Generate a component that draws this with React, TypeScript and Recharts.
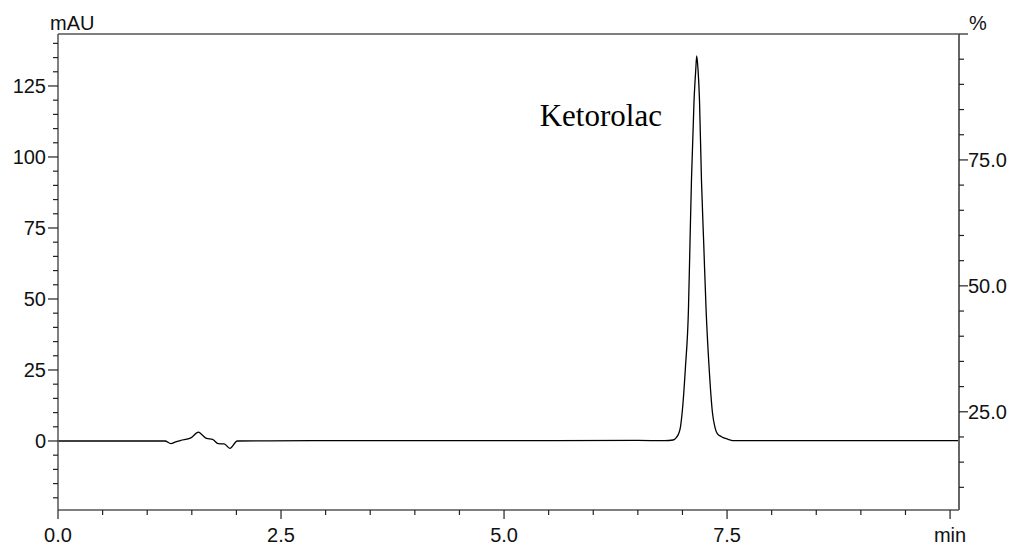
import React from 'react';
import { LineChart, Line, XAxis, YAxis, ReferenceLine, ReferenceDot } from 'recharts';

// Detector trace: retention time (min) and absorbance (mAU)
const retentionTimes = [
  0.0, 1.2, 1.265, 1.32, 1.377, 1.489, 1.575, 1.62, 1.665, 1.732, 1.796, 1.863, 1.927, 2.01,
  2.85, 3.8, 4.5, 5.5, 6.5, 6.8, 6.895, 6.933, 6.959, 6.978, 6.996, 7.034, 7.067, 7.084,
  7.101, 7.13, 7.149, 7.16, 7.175, 7.191, 7.213, 7.239, 7.265, 7.298, 7.337, 7.363, 7.389,
  7.437, 7.512, 7.587, 7.7, 10.1,
];
const absorbance = [
  0.0, 0.0, -0.95, -0.3, 0.2, 1.1, 3.1, 2.0, 0.9, 0.6, -0.95, -1.05, -2.6, 0.0,
  0.1, 0.1, 0.1, 0.15, 0.2, 0.1, 0.35, 1.3, 2.7, 5.0, 9.75, 26.2, 46.1, 69.0,
  91.9, 120.0, 130.6, 135.6, 130.6, 120.0, 91.9, 69.0, 46.1, 26.2, 9.75, 5.0, 2.7,
  1.5, 0.6, 0.1, 0.1, 0.1,
];

// Axis ticks and labels
const timeMajorTicks = [0, 2.5, 5, 7.5, 10];
const timeMajorLabels = ['0.0', '2.5', '5.0', '7.5', 'min'];
const timeMinorTicks = [0.5, 1, 1.5, 2, 3, 3.5, 4, 4.5, 5.5, 6, 6.5, 7, 8, 8.5, 9, 9.5];

const mauMajorTicks = [0, 25, 50, 75, 100, 125];
const mauMajorLabels = ['0', '25', '50', '75', '100', '125'];
const mauMinorTicks = [-20, -15, -10, -5, 5, 10, 15, 20, 30, 35, 40, 45, 55, 60, 65, 70, 80, 85, 90, 95, 105, 110, 115, 120, 130, 135, 140];

const pctMajorTicks = [25, 50, 75, 100];
const pctMajorLabels = ['25.0', '50.0', '75.0', ''];
const pctMinorTicks = [10, 15, 20, 30, 35, 40, 45, 55, 60, 65, 70, 80, 85, 90, 95];

const timeDomain = [0, 10.1];
const mauDomain = [-24.3, 143.3];
const pctDomain = [5.5, 100];

const peakName = 'Ketorolac';
const peakLabelAt = { t: 5.4, v: 110.9 };

const traceData = retentionTimes.map((t, i) => ({ t, v: absorbance[i] }));

const sorted = (a: number[], b: number[]) => [...a, ...b].sort((p, q) => p - q);

const FONT = '"Liberation Sans", Arial, sans-serif';
const TICK_COLOR = '#222';

const TimeTick = (props: any) => {
  const { x, y, payload } = props;
  const idx = timeMajorTicks.indexOf(payload.value);
  const major = idx >= 0;
  return (
    <g>
      <line x1={x} x2={x} y1={y} y2={y + (major ? 9 : 5)} stroke={TICK_COLOR} strokeWidth={1.2} />
      {major && (
        <text x={x} y={y + 32} textAnchor="middle" fontFamily={FONT} fontSize={20} fill="#111">
          {timeMajorLabels[idx]}
        </text>
      )}
    </g>
  );
};

const MauTick = (props: any) => {
  const { x, y, payload } = props;
  const idx = mauMajorTicks.indexOf(payload.value);
  const major = idx >= 0;
  return (
    <g>
      <line x1={x - (major ? 10 : 5)} x2={x} y1={y} y2={y} stroke={TICK_COLOR} strokeWidth={1.2} />
      {major && (
        <text x={x - 12} y={y + 7} textAnchor="end" fontFamily={FONT} fontSize={20} fill="#111">
          {mauMajorLabels[idx]}
        </text>
      )}
    </g>
  );
};

const PctTick = (props: any) => {
  const { x, y, payload } = props;
  const idx = pctMajorTicks.indexOf(payload.value);
  const major = idx >= 0;
  return (
    <g>
      <line x1={x} x2={x + (major ? 9 : 5)} y1={y} y2={y} stroke={TICK_COLOR} strokeWidth={1.2} />
      {major && (
        <text x={x + 9} y={y + 7} textAnchor="start" fontFamily={FONT} fontSize={20} fill="#111">
          {pctMajorLabels[idx]}
        </text>
      )}
    </g>
  );
};

export default function App() {
  return (
    <div style={{ position: 'absolute', left: 0, top: 0, background: '#fff' }}>
      <LineChart width={1016} height={545} data={traceData} margin={{ top: 34, right: 0, bottom: 0, left: 0 }}>
        <XAxis
          dataKey="t"
          type="number"
          domain={timeDomain}
          allowDataOverflow
          ticks={sorted(timeMajorTicks, timeMinorTicks)}
          interval={0}
          tickSize={0}
          tickMargin={0}
          tickLine={false}
          tick={<TimeTick />}
          height={35}
          axisLine={{ stroke: '#555', strokeWidth: 1.5 }}
        />
        <YAxis
          yAxisId="mau"
          type="number"
          domain={mauDomain}
          allowDataOverflow
          ticks={sorted(mauMajorTicks, mauMinorTicks)}
          interval={0}
          tickSize={0}
          tickMargin={0}
          tickLine={false}
          tick={<MauTick />}
          width={58}
          axisLine={{ stroke: '#555', strokeWidth: 1.5 }}
          label={{
            content: (p: any) => (
              <text x={p.viewBox.x + p.viewBox.width - 8} y={p.viewBox.y - 4} fontFamily={FONT} fontSize={20} fill="#111">
                mAU
              </text>
            ),
          }}
        />
        <YAxis
          yAxisId="pct"
          orientation="right"
          type="number"
          domain={pctDomain}
          allowDataOverflow
          ticks={sorted(pctMajorTicks, pctMinorTicks)}
          interval={0}
          tickSize={0}
          tickMargin={0}
          tickLine={false}
          tick={<PctTick />}
          width={57}
          axisLine={{ stroke: '#666', strokeWidth: 2 }}
          label={{
            content: (p: any) => (
              <text x={p.viewBox.x + 10} y={p.viewBox.y - 4} fontFamily={FONT} fontSize={20} fill="#111">
                %
              </text>
            ),
          }}
        />
        <ReferenceLine yAxisId="mau" y={mauDomain[1]} stroke="#000" strokeWidth={1.2} />
        <Line
          yAxisId="mau"
          dataKey="v"
          type="monotone"
          stroke="#000"
          strokeWidth={1.3}
          dot={false}
          isAnimationActive={false}
        />
        <ReferenceDot
          yAxisId="mau"
          x={peakLabelAt.t}
          y={peakLabelAt.v}
          r={0}
          label={{
            content: (p: any) => (
              <text
                x={p.viewBox.x}
                y={p.viewBox.y}
                fontFamily='"Liberation Serif", "Times New Roman", serif'
                fontSize={31}
                fill="#000"
              >
                {peakName}
              </text>
            ),
          }}
        />
      </LineChart>
    </div>
  );
}
